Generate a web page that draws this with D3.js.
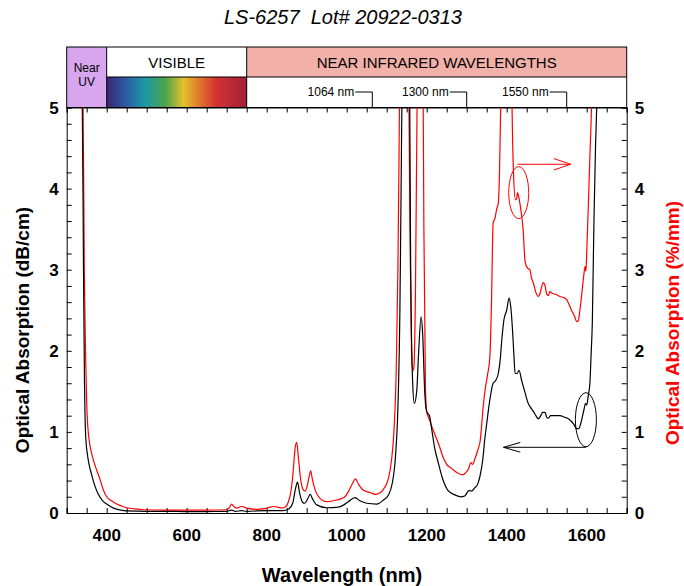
<!DOCTYPE html>
<html>
<head>
<meta charset="utf-8">
<script src="https://cdn.jsdelivr.net/npm/d3@7"></script>
<style>
  body { margin: 0; background: #fff; }
  svg { font-family: Arial, 'Liberation Sans', sans-serif; }
</style>
</head>
<body>
<div id="chart"><svg width="684" height="586"></svg></div>
<script>
// black curve, dB/cm
const WL_DB = [330, 339, 342, 344.5, 346, 348, 351, 355, 362, 370, 379, 390, 400, 417, 435, 450, 500, 550, 600, 650, 700, 712, 722, 737, 750, 800, 840, 855, 865, 872, 877, 882, 890, 895, 902, 909, 914, 925, 950, 975, 993, 1004, 1021, 1033, 1050, 1075, 1092, 1104, 1114, 1122, 1128, 1133, 1136, 1139, 1150, 1157, 1160, 1165, 1169, 1175, 1180, 1186, 1190, 1195, 1200, 1207, 1212, 1220, 1230, 1238, 1253, 1272, 1285, 1295, 1306, 1312, 1320, 1327, 1333, 1340, 1345, 1350, 1358, 1366, 1372, 1379, 1384, 1387, 1393, 1400, 1406, 1410, 1414, 1418, 1421, 1426, 1431, 1437, 1445, 1454, 1460, 1467, 1473, 1479, 1485, 1490, 1496, 1500, 1504, 1510, 1520, 1533, 1545, 1555, 1567, 1575, 1580, 1585, 1593, 1597, 1600, 1604, 1608, 1611, 1614, 1618, 1622, 1625, 1630];
const ABS_DB = [6.0, 5.0, 3.0, 1.6, 1.15, 0.9, 0.75, 0.62, 0.48, 0.34, 0.23, 0.15, 0.11, 0.06, 0.035, 0.025, 0.02, 0.02, 0.018, 0.018, 0.02, 0.035, 0.02, 0.03, 0.02, 0.03, 0.03, 0.05, 0.12, 0.3, 0.38, 0.25, 0.13, 0.12, 0.17, 0.23, 0.18, 0.1, 0.065, 0.07, 0.1, 0.14, 0.19, 0.15, 0.12, 0.11, 0.16, 0.22, 0.37, 0.7, 1.3, 2.5, 4.0, 5.5, 7, 5.5, 3.0, 1.6, 1.35, 1.5, 2.0, 2.42, 2.2, 1.5, 1.25, 1.2, 1.05, 0.8, 0.6, 0.45, 0.28, 0.22, 0.2, 0.21, 0.28, 0.27, 0.31, 0.35, 0.45, 0.65, 0.9, 1.1, 1.4, 1.6, 1.63, 1.72, 1.9, 2.09, 2.38, 2.5, 2.65, 2.55, 2.3, 1.95, 1.72, 1.72, 1.76, 1.64, 1.5, 1.35, 1.3, 1.25, 1.2, 1.16, 1.2, 1.24, 1.24, 1.18, 1.17, 1.2, 1.2, 1.2, 1.18, 1.16, 1.1, 1.04, 1.04, 1.1, 1.27, 1.35, 1.33, 1.45, 1.6, 1.95, 2.34, 3.57, 4.5, 5.0, 6.0];

// red curve, %/mm
const WL_PCT = [330, 341, 344, 347.5, 350, 353, 357, 362, 370, 383, 392, 400, 412, 425, 440, 450, 470, 492, 550, 600, 650, 700, 706, 712, 718, 725, 737, 745, 750, 775, 790, 800, 817, 830, 837, 848, 855, 860, 866, 871, 875, 879, 884, 890, 896, 902, 907, 910, 914, 920, 930, 950, 975, 993, 1005, 1015, 1022, 1030, 1042, 1060, 1071, 1080, 1090, 1104, 1112, 1118, 1124, 1128, 1131, 1134, 1150, 1155, 1158, 1162, 1165, 1168, 1172, 1175, 1178, 1185, 1190, 1193, 1197, 1200, 1207, 1214, 1222, 1232, 1240, 1250, 1262, 1275, 1290, 1298, 1305, 1310, 1315, 1320, 1328, 1334, 1337, 1341, 1346, 1352, 1358, 1362, 1366, 1371, 1375, 1379, 1382, 1385, 1390, 1405, 1412, 1414, 1417, 1422, 1425, 1427, 1430, 1435, 1441, 1446, 1452, 1458, 1462, 1467, 1473, 1479, 1483, 1487, 1491, 1496, 1500, 1504, 1508, 1513, 1520, 1533, 1545, 1550, 1556, 1562, 1570, 1575, 1579, 1583, 1587, 1592, 1596, 1598, 1600, 1604, 1608, 1612, 1616];
const ABS_PCT = [6, 5.0, 3, 1.9, 1.35, 1.05, 0.87, 0.74, 0.6, 0.42, 0.28, 0.2, 0.15, 0.11, 0.08, 0.065, 0.05, 0.04, 0.035, 0.035, 0.035, 0.04, 0.06, 0.11, 0.08, 0.06, 0.08, 0.07, 0.06, 0.045, 0.05, 0.06, 0.08, 0.07, 0.06, 0.08, 0.15, 0.25, 0.5, 0.8, 0.87, 0.7, 0.45, 0.3, 0.27, 0.35, 0.47, 0.52, 0.42, 0.3, 0.2, 0.14, 0.16, 0.19, 0.27, 0.37, 0.42, 0.35, 0.28, 0.25, 0.23, 0.24, 0.28, 0.42, 0.65, 1.0, 1.8, 3.0, 4.5, 6, 7, 5.5, 3.5, 2.0, 1.75, 1.8, 2.8, 4.5, 6, 7, 6, 3.5, 1.5, 1.25, 1.15, 1.05, 0.95, 0.82, 0.7, 0.6, 0.55, 0.5, 0.47, 0.5, 0.55, 0.62, 0.6, 0.66, 0.78, 0.9, 1.06, 1.3, 1.52, 1.7, 1.93, 2.6, 3.57, 3.64, 3.75, 3.82, 4.2, 5.0, 6, 7, 5.5, 4.8, 4.19, 3.86, 3.88, 3.95, 3.9, 3.75, 3.5, 3.1, 3.02, 3.0, 2.9, 2.83, 2.72, 2.67, 2.7, 2.78, 2.84, 2.8, 2.7, 2.68, 2.73, 2.71, 2.7, 2.67, 2.65, 2.63, 2.57, 2.5, 2.42, 2.36, 2.37, 2.5, 2.67, 2.9, 3.04, 2.98, 3.2, 3.78, 4.4, 5.0, 6.0];

const X_TICKS = [400, 600, 800, 1000, 1200, 1400, 1600];
const Y_TICKS = [0, 1, 2, 3, 4, 5];
const MARKERS = [1064, 1300, 1550];
const BANDS = ['Near UV', 'VISIBLE', 'NEAR INFRARED WAVELENGTHS'];
const BAND_EDGES = [300, 400, 750, 1700];

const SVG = d3.select('#chart svg');
const LEFT = 66.7, RIGHT = 626.7, TOP = 107.5, BOTTOM = 513;
const BAND_TOP = 47, BAND_MID = 77;

const X_SCALE = d3.scaleLinear().domain([300, 1700]).range([LEFT, RIGHT]);
const Y_SCALE = d3.scaleLinear().domain([0, 5]).range([BOTTOM, TOP]);

// title
SVG.append('text')
  .attr('x', 343).attr('y', 24)
  .attr('text-anchor', 'middle')
  .style('font-size', '20px').style('font-style', 'italic')
  .style('white-space', 'pre')
  .text('LS-6257  Lot# 20922-0313');

// wavelength band header
const defs = SVG.append('defs');
const grad = defs.append('linearGradient').attr('id', 'rainbow');
[['0', '#3a2570'], ['0.13', '#2f58a5'], ['0.27', '#1c97a8'], ['0.42', '#4da34a'], ['0.55', '#e3c12c'], ['0.66', '#e0782c'], ['0.78', '#d43331'], ['1', '#a0203a']]
  .forEach(s => grad.append('stop').attr('offset', s[0]).attr('stop-color', s[1]));

defs.append('clipPath').attr('id', 'plotClip')
  .append('rect').attr('x', LEFT).attr('y', TOP).attr('width', RIGHT - LEFT).attr('height', BOTTOM - TOP);

const HEAD = SVG.append('g').attr('id', 'header');
HEAD.append('rect')
  .attr('x', X_SCALE(BAND_EDGES[0])).attr('y', BAND_TOP)
  .attr('width', X_SCALE(BAND_EDGES[1]) - X_SCALE(BAND_EDGES[0])).attr('height', TOP - BAND_TOP)
  .style('fill', '#d7a6ef');
HEAD.append('rect')
  .attr('x', X_SCALE(BAND_EDGES[1])).attr('y', BAND_MID)
  .attr('width', X_SCALE(BAND_EDGES[2]) - X_SCALE(BAND_EDGES[1])).attr('height', TOP - BAND_MID)
  .style('fill', 'url(#rainbow)');
HEAD.append('rect')
  .attr('x', X_SCALE(BAND_EDGES[2])).attr('y', BAND_TOP)
  .attr('width', X_SCALE(BAND_EDGES[3]) - X_SCALE(BAND_EDGES[2])).attr('height', BAND_MID - BAND_TOP)
  .style('fill', '#f2b1a8');
HEAD.append('rect')
  .attr('x', LEFT).attr('y', BAND_TOP).attr('width', RIGHT - LEFT).attr('height', TOP - BAND_TOP)
  .style('fill', 'none').style('stroke', '#000').style('stroke-width', 1);
HEAD.append('line')
  .attr('x1', X_SCALE(400)).attr('x2', RIGHT).attr('y1', BAND_MID).attr('y2', BAND_MID)
  .style('stroke', '#000');
[400, 750].forEach(w => {
  HEAD.append('line')
    .attr('x1', X_SCALE(w)).attr('x2', X_SCALE(w)).attr('y1', BAND_TOP).attr('y2', TOP)
    .style('stroke', '#000');
});
HEAD.append('text').attr('x', (X_SCALE(300) + X_SCALE(400)) / 2).attr('y', 72)
  .attr('text-anchor', 'middle').style('font-size', '12px').text('Near');
HEAD.append('text').attr('x', (X_SCALE(300) + X_SCALE(400)) / 2).attr('y', 86)
  .attr('text-anchor', 'middle').style('font-size', '12px').text('UV');
HEAD.append('text').attr('x', (X_SCALE(400) + X_SCALE(750)) / 2).attr('y', 67.5)
  .attr('text-anchor', 'middle').style('font-size', '15px').text(BANDS[1]);
HEAD.append('text').attr('x', (X_SCALE(750) + X_SCALE(1700)) / 2).attr('y', 67.5)
  .attr('text-anchor', 'middle').style('font-size', '15px').text(BANDS[2]);

MARKERS.forEach(m => {
  const mx = X_SCALE(m);
  HEAD.append('path')
    .attr('d', `M${mx - 17},92 H${mx} V${TOP}`)
    .style('fill', 'none').style('stroke', '#000');
  HEAD.append('text').attr('x', mx - 18).attr('y', 96)
    .attr('text-anchor', 'end').style('font-size', '12px').text(`${m} nm`);
});

// axes
const X_BOTTOM = d3.axisTop(X_SCALE).tickValues(d3.range(300, 1701, 50)).tickSize(5).tickFormat('');
SVG.append('g').attr('transform', `translate(0,${BOTTOM})`).call(X_BOTTOM);
const X_TOP = d3.axisBottom(X_SCALE).tickValues(d3.range(300, 1701, 50)).tickSize(5).tickFormat('');
SVG.append('g').attr('transform', `translate(0,${TOP})`).call(X_TOP);
const Y_LEFT = d3.axisRight(Y_SCALE).tickValues(d3.range(0, 5.01, 0.2)).tickSize(5).tickFormat('');
SVG.append('g').attr('transform', `translate(${LEFT},0)`).call(Y_LEFT);
const Y_RIGHT = d3.axisLeft(Y_SCALE).tickValues(d3.range(0, 5.01, 0.2)).tickSize(5).tickFormat('');
SVG.append('g').attr('transform', `translate(${RIGHT},0)`).call(Y_RIGHT);
SVG.selectAll('.domain').style('stroke', '#000');

// tick labels
SVG.append('g').selectAll('text').data(X_TICKS).join('text')
  .attr('x', d => X_SCALE(d)).attr('y', 541)
  .attr('text-anchor', 'middle').style('font-size', '17px').style('font-weight', 'bold')
  .text(d => d);
SVG.append('g').selectAll('text').data(Y_TICKS).join('text')
  .attr('x', LEFT - 8).attr('y', d => Y_SCALE(d) + 6)
  .attr('text-anchor', 'end').style('font-size', '17px').style('font-weight', 'bold')
  .text(d => d);
SVG.append('g').selectAll('text').data(Y_TICKS).join('text')
  .attr('x', RIGHT + 8).attr('y', d => Y_SCALE(d) + 6)
  .attr('text-anchor', 'start').style('font-size', '17px').style('font-weight', 'bold')
  .text(d => d);

// axis titles
SVG.append('text').attr('x', 342).attr('y', 582)
  .attr('text-anchor', 'middle').style('font-size', '20px').style('font-weight', 'bold')
  .text('Wavelength (nm)');
SVG.append('text').attr('transform', 'translate(29,330) rotate(-90)')
  .attr('text-anchor', 'middle').style('font-size', '19px').style('font-weight', 'bold')
  .text('Optical Absorption (dB/cm)');
SVG.append('text').attr('transform', 'translate(679,323) rotate(-90)')
  .attr('text-anchor', 'middle').style('font-size', '19px').style('font-weight', 'bold')
  .style('fill', '#ff0000')
  .text('Optical Absorption (%/mm)');

// curves
const LINE = d3.line().x(d => X_SCALE(d[0])).y(d => Y_SCALE(d[1])).curve(d3.curveMonotoneX);
const PLOT = SVG.append('g').attr('clip-path', 'url(#plotClip)');
PLOT.append('path')
  .datum(d3.zip(WL_PCT, ABS_PCT))
  .attr('d', LINE)
  .style('fill', 'none').style('stroke', '#ff0000').style('stroke-width', 1.2);
PLOT.append('path')
  .datum(d3.zip(WL_DB, ABS_DB))
  .attr('d', LINE)
  .style('fill', 'none').style('stroke', '#000').style('stroke-width', 1.2);

// annotations: circles with arrows pointing to matching axis
const ANN = SVG.append('g');
ANN.append('ellipse')
  .attr('cx', X_SCALE(1430)).attr('cy', Y_SCALE(3.95)).attr('rx', 10).attr('ry', 26)
  .style('fill', 'none').style('stroke', '#ff0000');
ANN.append('path')
  .attr('d', `M${X_SCALE(1427)},${Y_SCALE(4.3)} H${X_SCALE(1560)} M${X_SCALE(1518)},${Y_SCALE(4.37)} L${X_SCALE(1560)},${Y_SCALE(4.3)} L${X_SCALE(1518)},${Y_SCALE(4.23)}`)
  .style('fill', 'none').style('stroke', '#ff0000');
ANN.append('ellipse')
  .attr('cx', X_SCALE(1598)).attr('cy', Y_SCALE(1.15)).attr('rx', 10.5).attr('ry', 27)
  .style('fill', 'none').style('stroke', '#000');
ANN.append('path')
  .attr('d', `M${X_SCALE(1598)},${Y_SCALE(0.81)} H${X_SCALE(1392)} M${X_SCALE(1434)},${Y_SCALE(0.87)} L${X_SCALE(1392)},${Y_SCALE(0.81)} L${X_SCALE(1434)},${Y_SCALE(0.75)}`)
  .style('fill', 'none').style('stroke', '#000');
</script>
</body>
</html>
